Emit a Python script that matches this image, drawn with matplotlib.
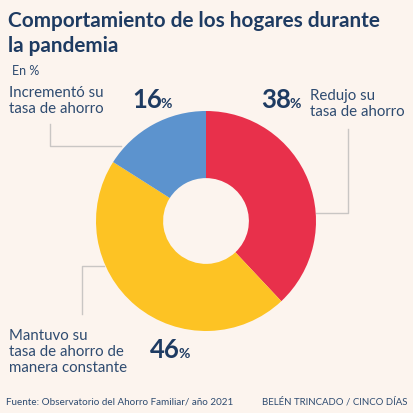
import matplotlib
matplotlib.use("Agg")
import matplotlib.pyplot as plt
from matplotlib.lines import Line2D

# data
labels = ["Redujo su\ntasa de ahorro", "Mantuvo su\ntasa de ahorro de\nmanera constante", "Incrementó su\ntasa de ahorro"]
shares = [38, 46, 16]
colors = ["#E8304B", "#FDC324", "#5C93CE"]

BG = "#FCF4EE"
NAVY = "#1E3B62"
TXT = "#2E4B70"
GREY = "#C9C6C4"

W = H = 414
fig = plt.figure(figsize=(W / 100, H / 100), dpi=100, facecolor=BG)
plt.rcParams["font.family"] = ["Lato", "DejaVu Sans"]


def px(x, y):
    return x / W, 1 - y / H


# donut
cx, cy, r = 206, 222, 110
ax = fig.add_axes([(cx - r) / W, (H - cy - r) / H, 2 * r / W, 2 * r / H])
ax.set_facecolor(BG)
ax.pie(shares, colors=colors, startangle=90, counterclock=False, radius=1,
       wedgeprops=dict(width=0.61, linewidth=0))
ax.set_xlim(-1, 1)
ax.set_ylim(-1, 1)
ax.set_aspect("equal")
ax.axis("off")

# title
fig.text(*px(8, 21), "Comportamiento de los hogares durante", fontsize=14.95, fontweight="bold",
         color=NAVY, va="center", ha="left")
fig.text(*px(8, 46), "la pandemia", fontsize=14.95, fontweight="bold", color=NAVY, va="center", ha="left")
fig.text(*px(12, 71), "En %", fontsize=9, color=TXT, va="center", ha="left")

# category labels
fig.text(*px(9, 101), labels[2], fontsize=10.8, color=TXT, va="center", ha="left", linespacing=1.15)
fig.text(*px(310, 104), labels[0], fontsize=10.8, color=TXT, va="center", ha="left", linespacing=1.15)
fig.text(*px(9, 352), labels[1], fontsize=10.8, color=TXT, va="center", ha="left", linespacing=1.2)


def pct(x, y, val):
    t = fig.text(*px(x, y), str(val), fontsize=18.5, fontweight="bold", color=NAVY, va="baseline", ha="left")
    fig.canvas.draw()
    bb = t.get_window_extent()
    fig.text((bb.x1 - 1) / W, 1 - y / H, "%", fontsize=10, fontweight="bold", color=NAVY,
             va="baseline", ha="left")


pct(132, 108, shares[2])
pct(261, 108, shares[0])
pct(150, 358, shares[1])

# leader lines
leaders = [
    [(50, 125), (50, 147), (121, 147)],
    [(82, 315), (82, 267), (104, 267)],
    [(348, 130), (348, 214), (316, 214)],
]
for pts in leaders:
    xs = [p[0] / W for p in pts]
    ys = [1 - p[1] / H for p in pts]
    fig.add_artist(Line2D(xs, ys, color=GREY, lw=1, transform=fig.transFigure, zorder=0))

# footer
fig.text(*px(6, 402), "Fuente: Observatorio del Ahorro Familiar/ año 2021", fontsize=7.1, color=TXT,
         va="center", ha="left")
fig.text(*px(408, 402), "BELÉN TRINCADO / CINCO DÍAS", fontsize=6.9, color=TXT, va="center", ha="right")

fig.savefig("out.png", dpi=100, facecolor=BG)
